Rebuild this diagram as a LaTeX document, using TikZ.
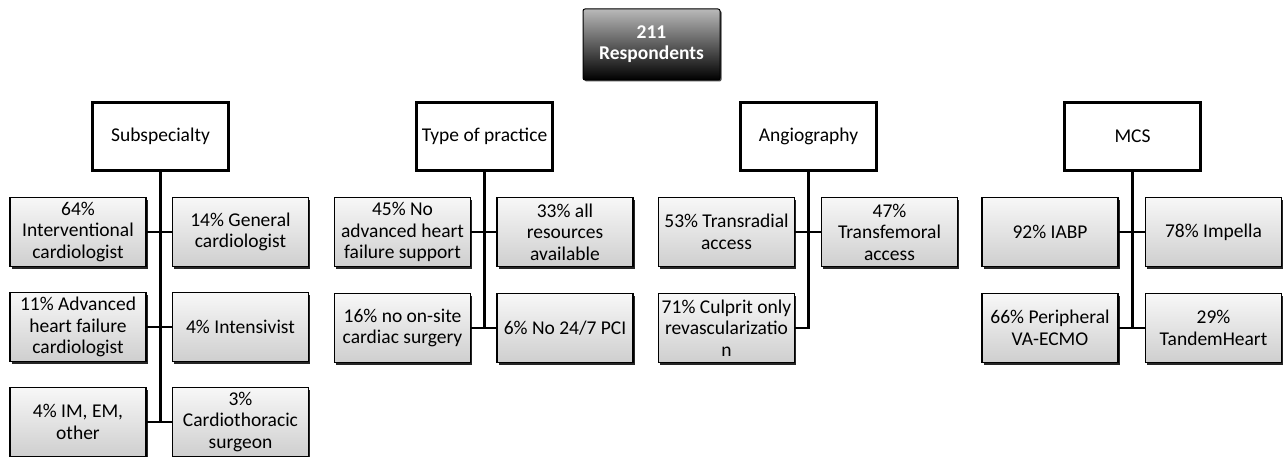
\documentclass[tikz,border=0pt]{standalone}
\usepackage{fontspec}
\setmainfont{Carlito}
\usetikzlibrary{shadows}
\tikzset{
  cat/.style={draw=black, line width=2.6pt, fill=white, minimum width=136pt, minimum height=68pt, inner sep=2pt, align=center, font=\fontsize{19.5}{21.5}\selectfont},
  leaf/.style={draw=black, line width=1.1pt, top color=gray!6, bottom color=gray!38, minimum width=136pt, minimum height=69pt, inner sep=1pt, align=center, font=\fontsize{19.5}{21.5}\selectfont,
    drop shadow={shadow xshift=1.8pt, shadow yshift=-2.2pt, fill=black!85, opacity=1}},
  topbox/.style={draw=black, line width=1pt, rounded corners=2pt, top color=gray!55, bottom color=black, text=white, minimum width=137pt, minimum height=71pt, align=center, font=\fontsize{19.5}{21}\selectfont\bfseries,
    drop shadow={shadow xshift=1.5pt, shadow yshift=-1.5pt, fill=black!70, opacity=1}},
  conn/.style={draw=black, line width=2.8pt}
}
\begin{document}
\begin{tikzpicture}[x=1pt,y=-1pt]
\useasboundingbox (0,0) rectangle (1284,457);
\node[topbox] (top) at (651.5,44.5) {211\\Respondents};

% Subspecialty
\node[cat] (s) at (160.5,136.5) {Subspecialty};
\node[leaf] (s1) at (78,232) {64\%\\Interventional\\cardiologist};
\node[leaf] (s2) at (240.5,232) {14\% General\\cardiologist};
\node[leaf] (s3) at (78,327) {11\% Advanced\\heart failure\\cardiologist};
\node[leaf] (s4) at (240.5,327) {4\% Intensivist};
\node[leaf] (s5) at (78,422) {4\% IM, EM,\\other};
\node[leaf] (s6) at (240.5,422) {3\%\\Cardiothoracic\\surgeon};
\coordinate (sb) at (s.south |- s5.east);
\draw[conn] (s.south) -- (sb);
\draw[conn] (s1.east) -- (s2.west);
\draw[conn] (s3.east) -- (s4.west);
\draw[conn] (s5.east) -- (s6.west);

% Type of practice
\node[cat] (t) at (484.5,136.5) {Type of practice};
\node[leaf] (t1) at (402.5,232) {45\% No\\advanced heart\\failure support};
\node[leaf] (t2) at (565,232) {33\% all\\resources\\available};
\node[leaf] (t3) at (402.5,328) {16\% no on-site\\cardiac surgery};
\node[leaf] (t4) at (565,328) {6\% No 24/7 PCI};
\coordinate (tb) at (t.south |- t3.east);
\draw[conn] (t.south) -- (tb);
\draw[conn] (t1.east) -- (t2.west);
\draw[conn] (t3.east) -- (t4.west);

% Angiography
\node[cat] (a) at (808.5,136.5) {Angiography};
\node[leaf] (a1) at (726.5,232) {53\% Transradial\\access};
\node[leaf] (a2) at (889.5,232) {47\%\\Transfemoral\\access};
\node[leaf] (a3) at (726.5,328) {71\% Culprit only\\revascularizatio\\n};
\draw[conn] (a.south) -- (a.south |- a3.east) -- (a3.east);
\draw[conn] (a1.east) -- (a2.west);

% MCS
\node[cat] (m) at (1132.5,136.5) {MCS};
\node[leaf] (m1) at (1050,232) {92\% IABP};
\node[leaf] (m2) at (1213.5,232) {78\% Impella};
\node[leaf] (m3) at (1050,328) {66\% Peripheral\\VA-ECMO};
\node[leaf] (m4) at (1213.5,328) {29\%\\TandemHeart};
\coordinate (mb) at (m.south |- m3.east);
\draw[conn] (m.south) -- (mb);
\draw[conn] (m1.east) -- (m2.west);
\draw[conn] (m3.east) -- (m4.west);
\end{tikzpicture}
\end{document}
